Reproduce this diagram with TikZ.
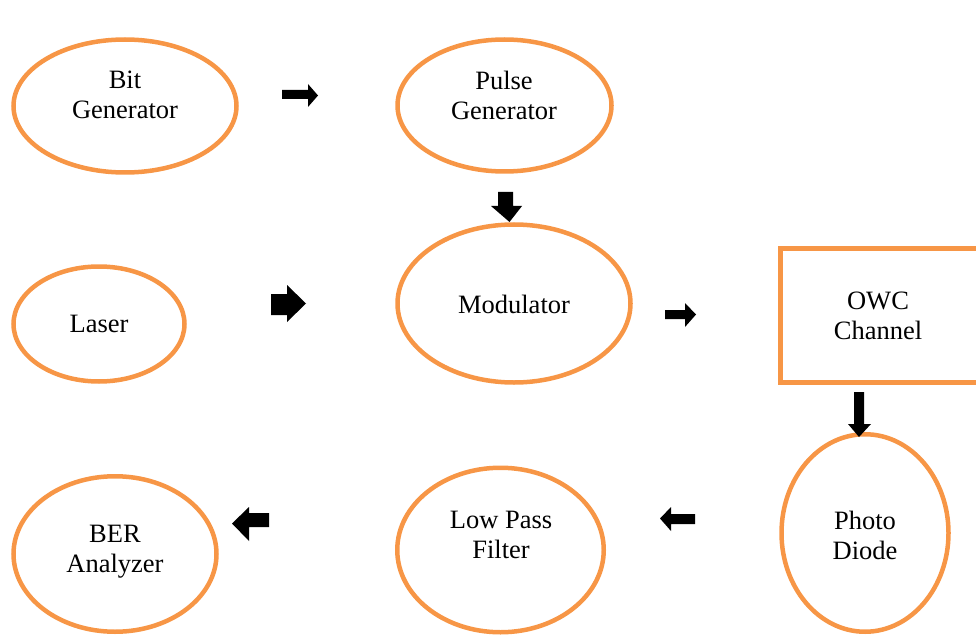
\documentclass[tikz,border=0pt]{standalone}
\usepackage{fontspec}
\setmainfont{Liberation Serif}
\usetikzlibrary{shapes.geometric}
\definecolor{borange}{RGB}{247,150,70}
\begin{document}
\begin{tikzpicture}[x=1pt,y=-1pt,
  blob/.style={ellipse,draw=borange,line width=4.5pt,inner sep=0pt},
  box/.style={rectangle,draw=borange,line width=4.5pt,inner sep=0pt},
  lbl/.style={font=\fontsize{26.5}{30}\selectfont,align=center,inner sep=0pt,text=black},
  barrow/.style={fill=black}]
\useasboundingbox (0,0) rectangle (976,636);
% shapes
\node[blob,minimum width=223pt,minimum height=133pt] (bit) at (125,106) {};
\node[blob,minimum width=214pt,minimum height=132pt] (pulse) at (504.5,105.5) {};
\node[blob,minimum width=171pt,minimum height=115pt] (laser) at (99,324) {};
\node[blob,minimum width=233pt,minimum height=158pt] (mod) at (514,303.5) {};
\node[blob,minimum width=203pt,minimum height=155.5pt] (ber) at (115,554) {};
\node[blob,minimum width=206.5pt,minimum height=164.5pt] (lpf) at (500.5,550) {};
\node[blob,minimum width=167pt,minimum height=197.5pt] (pd) at (865,533) {};
\node[box,minimum width=210pt,minimum height=134pt] (owc) at (885.5,315.5) {};
% texts
\node[lbl] (tbit) at (125,95) {Bit\\Generator};
\node[lbl] (tpulse) at (504,95) {Pulse\\Generator};
\node[lbl] (tlaser) at (99,324) {Laser};
\node[lbl] (tmod) at (514,304) {Modulator};
\node[lbl] (towc) at (878,316) {OWC\\Channel};
\node[lbl] (tpd) at (865,535) {Photo\\Diode};
\node[lbl] (tlpf) at (501,535) {Low Pass\\Filter};
\node[lbl] (tber) at (115,552) {BER\\Analyzer};
% block arrows
\fill[barrow] (282,90) -- (308,90) -- (308,84) -- (318,95.5) -- (308,107) -- (308,99) -- (282,99) -- cycle;
\fill[barrow] (498,192) -- (513,192) -- (513,206) -- (522,206) -- (509.5,222) -- (491,206) -- (498,206) -- cycle;
\fill[barrow] (271,294) -- (287,294) -- (287,285) -- (306,303.5) -- (287,322) -- (287,315) -- (271,315) -- cycle;
\fill[barrow] (665,310) -- (685,310) -- (685,303) -- (696,314.5) -- (685,327) -- (685,319) -- (665,319) -- cycle;
\fill[barrow] (854,392) -- (864,392) -- (864,424) -- (871,424) -- (859,437) -- (848,424) -- (854,424) -- cycle;
\fill[barrow] (695,514) -- (671,514) -- (671,507) -- (660,518.5) -- (671,531) -- (671,524) -- (695,524) -- cycle;
\fill[barrow] (269,513) -- (249,513) -- (249,507) -- (232,523.5) -- (249,541) -- (249,527) -- (269,527) -- cycle;
\end{tikzpicture}
\end{document}
